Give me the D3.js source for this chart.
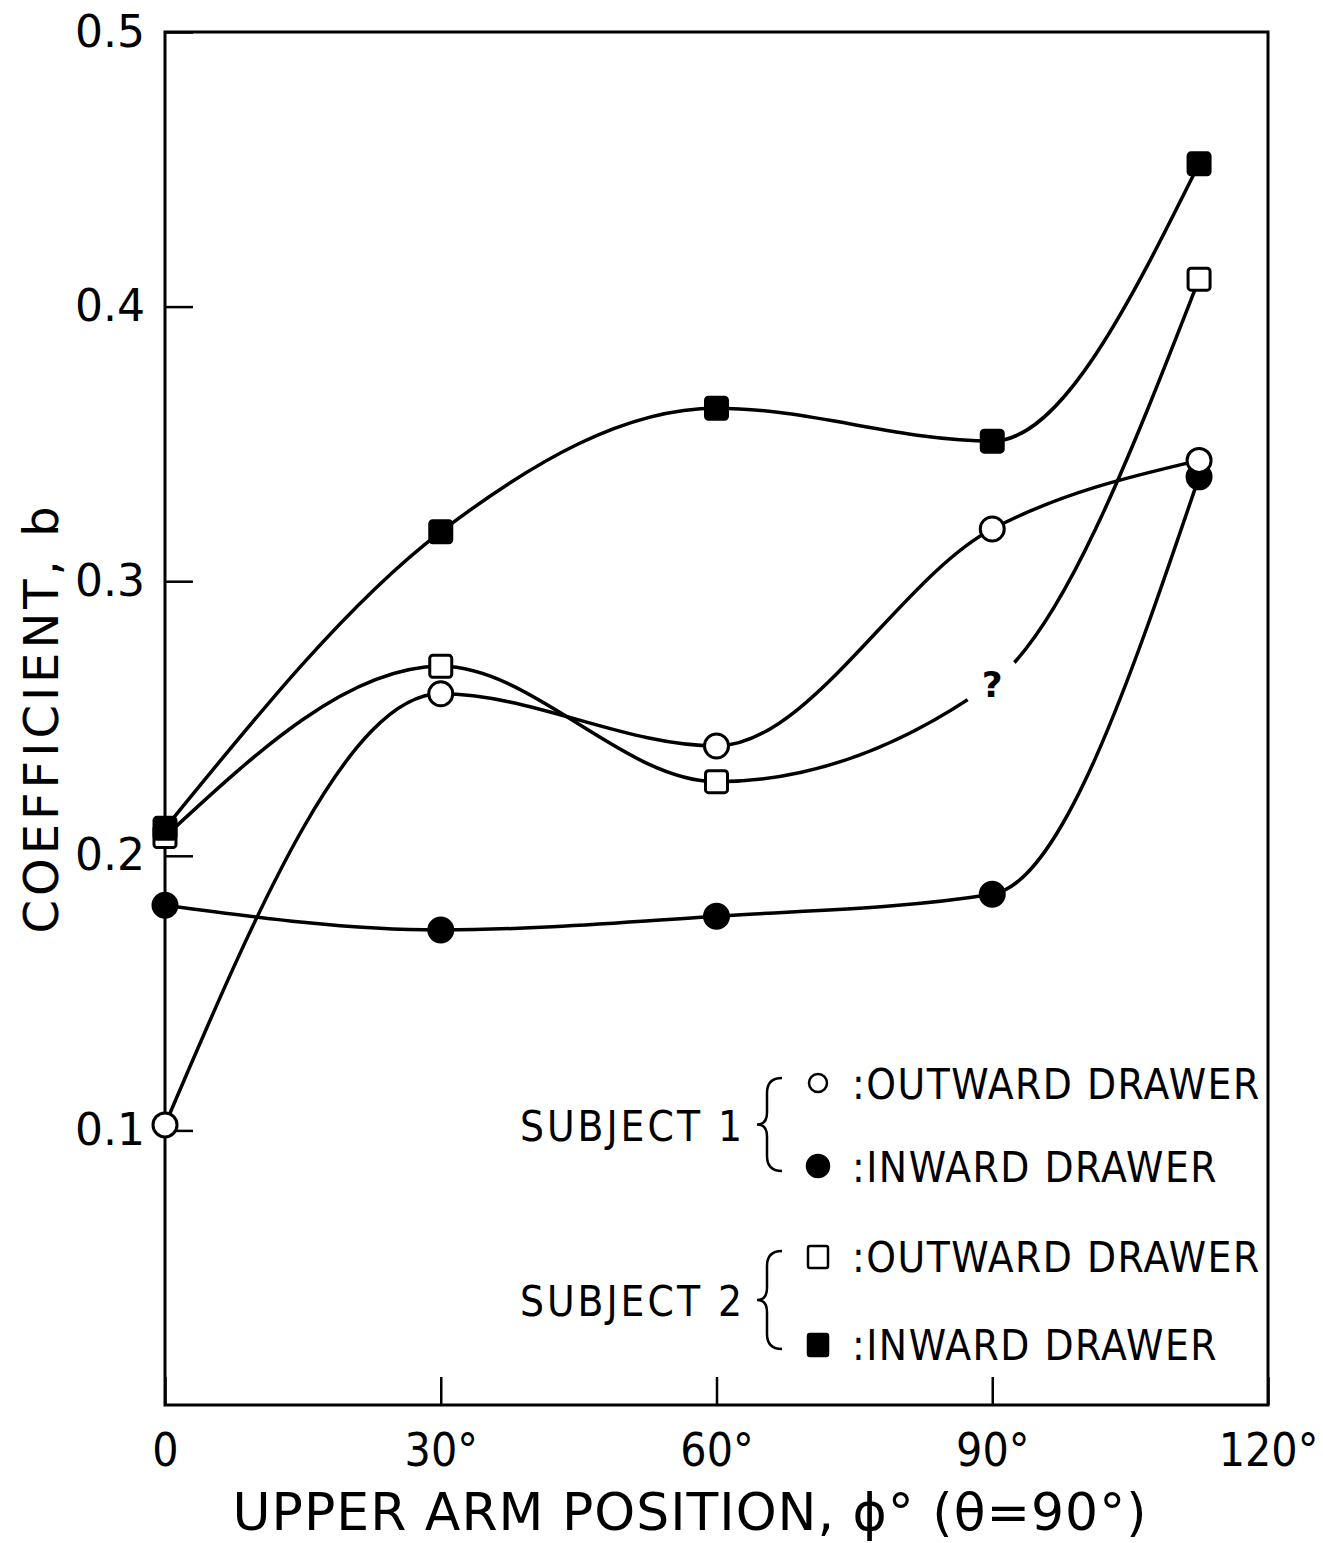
<!DOCTYPE html>
<html lang="en">
<head>
    <meta charset="UTF-8">
    <title>Coefficient b vs upper arm position</title>
    <style>
        body { margin: 0; background: #fff; }
        svg text {
            font-family: "DejaVu Sans", sans-serif;
            fill: #000;
        }
        .curve { fill: none; stroke: #000; stroke-width: 3.5; }
    </style>
</head>
<body>
    <svg id="chart" width="1323" height="1543"></svg>

    <script src="https://d3js.org/d3.v7.min.js"></script>
    <script>
        // upper arm position (deg) and coefficient b per series
        const angles = [0, 30, 60, 90, 112.5];
        const s1Outward = [0.102, 0.259, 0.240, 0.319, 0.344];
        const s1Inward = [0.182, 0.173, 0.178, 0.186, 0.338];
        const s2Outward = [0.207, 0.269, 0.227, 0.263, 0.410];
        const s2Inward = [0.210, 0.318, 0.363, 0.351, 0.452];
        // the 90 deg point of subject 2 outward is the "?" (no marker)
        const s2OutwardMeasured = [true, true, true, false, true];

        const xTicks = [0, 30, 60, 90, 120];
        const yTicks = [0.1, 0.2, 0.3, 0.4, 0.5];

        const svg = d3.select("#chart");
        const plotLeft = 165, plotRight = 1268, plotTop = 32, plotBottom = 1405;

        const x = d3.scaleLinear().domain([0, 120]).range([plotLeft, plotRight]);
        const y = d3.scaleLinear().domain([0, 0.5]).range([plotBottom, plotTop]);

        // axes with inward ticks
        const yAxis = svg.append("g")
            .attr("transform", `translate(${plotLeft},0)`)
            .call(d3.axisLeft(y).tickValues(yTicks).tickSize(-28).tickPadding(20)
                .tickFormat(d3.format(".1f")));
        const xAxis = svg.append("g")
            .attr("transform", `translate(0,${plotBottom})`)
            .call(d3.axisBottom(x).tickValues(xTicks).tickSize(-28).tickPadding(28)
                .tickFormat(d => d === 0 ? "0" : d + "°"));
        [yAxis, xAxis].forEach(g => {
            g.attr("font-family", null).attr("font-size", null);
            g.select(".domain").remove();
            g.selectAll(".tick line").attr("stroke", "#000").attr("stroke-width", 2.5);
            g.selectAll("text").attr("fill", "#000");
        });
        yAxis.selectAll("text").style("font-size", "44px");
        xAxis.selectAll("text").style("font-size", "46px").style("font-stretch", "condensed");

        svg.append("rect")
            .attr("x", plotLeft).attr("y", plotTop)
            .attr("width", plotRight - plotLeft).attr("height", plotBottom - plotTop)
            .attr("fill", "none").attr("stroke", "#000").attr("stroke-width", 3);

        // curves
        const line = d3.line()
            .x((d, i) => x(angles[i]))
            .y(d => y(d))
            .curve(d3.curveMonotoneX);

        [s1Outward, s1Inward, s2Outward, s2Inward].forEach(vals => {
            svg.append("path").attr("class", "curve").attr("d", line(vals));
        });

        // gap with question mark on subject 2 outward
        svg.append("circle")
            .attr("cx", x(angles[3])).attr("cy", y(s2Outward[3]))
            .attr("r", 30).attr("fill", "#fff");
        svg.append("text")
            .attr("x", x(angles[3])).attr("y", y(s2Outward[3]) + 14)
            .attr("text-anchor", "middle")
            .style("font-size", "36px").style("font-weight", "bold")
            .text("?");

        // markers
        function circles(vals, fill) {
            svg.append("g").selectAll("circle").data(vals).join("circle")
                .attr("cx", (d, i) => x(angles[i]))
                .attr("cy", d => y(d))
                .attr("r", 12)
                .attr("fill", fill).attr("stroke", "#000").attr("stroke-width", 3);
        }
        function squares(vals, fill, show) {
            const pts = vals.map((v, i) => ({ a: angles[i], v: v })).filter((d, i) => show[i]);
            svg.append("g").selectAll("rect").data(pts).join("rect")
                .attr("x", d => x(d.a) - 11)
                .attr("y", d => y(d.v) - 11)
                .attr("width", 22).attr("height", 22).attr("rx", 3)
                .attr("fill", fill).attr("stroke", "#000").attr("stroke-width", 3);
        }
        circles(s1Inward, "#000");
        circles(s1Outward, "#fff");
        squares(s2Outward, "#fff", s2OutwardMeasured);
        squares(s2Inward, "#000", angles.map(() => true));

        // axis titles
        svg.append("text")
            .attr("x", 690).attr("y", 1530)
            .attr("text-anchor", "middle")
            .style("font-size", "52px").style("letter-spacing", "1px")
            .text("UPPER ARM POSITION, \u03D5° (\u03B8=90°)");
        svg.append("text")
            .attr("transform", "translate(58,718) rotate(-90)")
            .attr("text-anchor", "middle")
            .style("font-size", "48px").style("letter-spacing", "4px")
            .text("COEFFICIENT, b");

        // legend
        const legend = svg.append("g");
        const groups = [
            { label: "SUBJECT 1", y1: 1083, y2: 1166, kinds: ["circle-open", "circle-fill"] },
            { label: "SUBJECT 2", y1: 1256, y2: 1344, kinds: ["square-open", "square-fill"] }
        ];
        const entryText = [":OUTWARD DRAWER", ":INWARD DRAWER"];
        groups.forEach(g => {
            const mid = (g.y1 + g.y2) / 2;
            legend.append("text")
                .attr("x", 745).attr("y", mid + 16)
                .attr("text-anchor", "end")
                .style("font-size", "42px").style("font-stretch", "condensed")
                .style("letter-spacing", "3px")
                .text(g.label);
            const t = g.y1 - 5, b = g.y2 + 5;
            legend.append("path")
                .attr("d", `M782,${t} Q767,${t} 767,${t + 15} L767,${mid - 12} Q767,${mid} 757,${mid}` +
                    ` Q767,${mid} 767,${mid + 12} L767,${b - 15} Q767,${b} 782,${b}`)
                .attr("fill", "none").attr("stroke", "#000").attr("stroke-width", 2.5);
            [g.y1, g.y2].forEach((yy, k) => {
                const kind = g.kinds[k];
                const fill = kind.endsWith("fill") ? "#000" : "#fff";
                if (kind.startsWith("circle")) {
                    legend.append("circle").attr("cx", 818).attr("cy", yy)
                        .attr("r", k === 0 ? 9 : 11)
                        .attr("fill", fill).attr("stroke", "#000").attr("stroke-width", 2.5);
                } else {
                    legend.append("rect").attr("x", 808).attr("y", yy - 10)
                        .attr("width", 20).attr("height", 22).attr("rx", 2)
                        .attr("fill", fill).attr("stroke", "#000").attr("stroke-width", 2.5);
                }
                legend.append("text")
                    .attr("x", 852).attr("y", yy + 16)
                    .style("font-size", "42px").style("font-stretch", "condensed")
                    .style("letter-spacing", "1.5px")
                    .text(entryText[k]);
            });
        });
    </script>
</body>
</html>
